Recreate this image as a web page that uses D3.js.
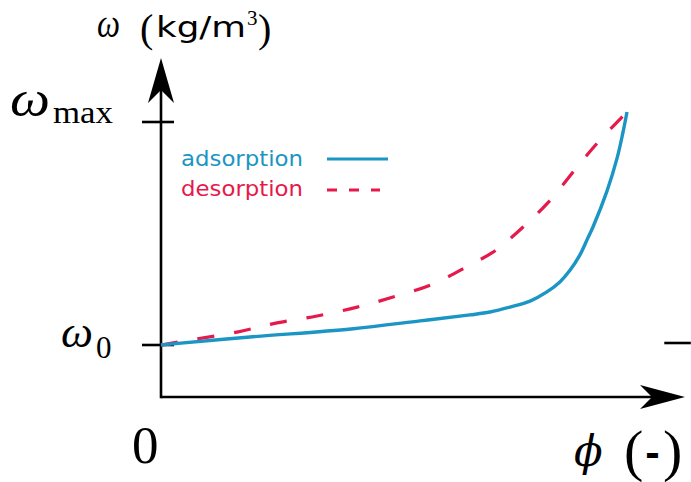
<!DOCTYPE html>
<html>
<head>
<meta charset="utf-8">
<script src="https://cdn.jsdelivr.net/npm/d3@7"></script>
<style>
  body { margin: 0; background: #fff; }
  .sans { font-family: "DejaVu Sans", sans-serif; }
  .serif { font-family: "Liberation Serif", "DejaVu Serif", serif; }
  .dserif { font-family: "DejaVu Serif", serif; }
</style>
</head>
<body>
<div id="chart"></div>
<script>
// sorption isotherm (normalised: phi 0..1, omega 0 = w0, 1 = wmax)
let adsPhi   = [0, 0.019, 0.191, 0.408, 0.556, 0.663, 0.706, 0.749, 0.792, 0.828, 0.856, 0.878, 0.899, 0.916, 0.927, 0.957, 0.979, 0.991, 1.0];
let adsOmega = [0, 0.004, 0.036, 0.072, 0.108, 0.135, 0.148, 0.170, 0.197, 0.238, 0.283, 0.336, 0.404, 0.480, 0.529, 0.690, 0.840, 0.950, 1.045];

let desPhi   = [0, 0.062, 0.163, 0.249, 0.335, 0.421, 0.498, 0.584, 0.663, 0.710, 0.738, 0.777, 0.830, 0.893, 0.942, 1.0];
let desOmega = [0, 0.022, 0.058, 0.099, 0.130, 0.170, 0.215, 0.274, 0.359, 0.413, 0.457, 0.529, 0.637, 0.798, 0.919, 1.045];

let seriesNames = ['adsorption', 'desorption'];
let yTickValues = [0, 1];

let width = 691, height = 482;
let blue = '#1b95c3', red = '#e6194b';

let svg = d3.select('#chart').append('svg')
    .attr('width', width)
    .attr('height', height);

let x = d3.scaleLinear().domain([0, 1]).range([161, 627]);
let y = d3.scaleLinear().domain([0, 1]).range([345, 122]);

// axis extents
let xMax = x.invert(685);
let yMin = y.invert(397);
let yMax = y.invert(58);

let ax = svg.append('g').attr('stroke', '#000').attr('stroke-width', 2.6).attr('fill', 'none');

ax.append('line')
    .attr('x1', x(0)).attr('x2', x(0))
    .attr('y1', y(yMin) + 1.3).attr('y2', y(yMax) + 30);
ax.append('line')
    .attr('x1', x(0)).attr('x2', x(xMax) - 30)
    .attr('y1', y(yMin)).attr('y2', y(yMin));

// arrow heads
let tx = x(0), ty = y(yMax);
svg.append('path')
    .attr('d', `M${tx},${ty} L${tx + 13},${ty + 45} L${tx},${ty + 32} L${tx - 13},${ty + 45} Z`)
    .attr('fill', '#000');
let rx = x(xMax), ry = y(yMin);
svg.append('path')
    .attr('d', `M${rx},${ry} L${rx - 45},${ry - 12} L${rx - 33},${ry} L${rx - 45},${ry + 12} Z`)
    .attr('fill', '#000');

// y ticks
ax.selectAll('.tick')
    .data(yTickValues)
    .enter().append('line')
    .attr('x1', x(0) - 19).attr('x2', x(0) + 13)
    .attr('y1', d => y(d)).attr('y2', d => y(d));

// stray marker at right
ax.append('line')
    .attr('x1', x(1.08)).attr('x2', x(1.137))
    .attr('y1', y(0) - 2).attr('y2', y(0) - 2);

// curves
let line = d3.line()
    .x(d => x(d[0]))
    .y(d => y(d[1]))
    .curve(d3.curveCatmullRom.alpha(0.5));

svg.append('path')
    .datum(desPhi.map((p, i) => [p, desOmega[i]]))
    .attr('d', line)
    .attr('fill', 'none')
    .attr('stroke', red)
    .attr('stroke-width', 3.2)
    .attr('stroke-dasharray', '17,20');

svg.append('path')
    .datum(adsPhi.map((p, i) => [p, adsOmega[i]]))
    .attr('d', line)
    .attr('fill', 'none')
    .attr('stroke', blue)
    .attr('stroke-width', 3.4);

// legend
let legend = svg.append('g');
seriesNames.forEach((name, i) => {
    let col = i == 0 ? blue : red;
    legend.append('text')
        .attr('class', 'sans')
        .attr('x', 181)
        .attr('y', 166 + i * 30)
        .attr('font-size', 21)
        .attr('textLength', 122)
        .attr('lengthAdjust', 'spacingAndGlyphs')
        .attr('fill', col)
        .text(name);
    legend.append('line')
        .attr('x1', 327).attr('x2', i == 0 ? 388 : 380)
        .attr('y1', 159 + i * 31).attr('y2', 159 + i * 31)
        .attr('stroke', col)
        .attr('stroke-width', 2.8)
        .attr('stroke-dasharray', i == 0 ? null : '10,12');
});

// labels
let yl = svg.append('text').attr('y', 37);
yl.append('tspan').attr('class', 'serif').attr('font-style', 'italic').attr('font-size', 40)
    .attr('x', 97).attr('textLength', 23).attr('lengthAdjust', 'spacingAndGlyphs').text('ω');
yl.append('tspan').attr('class', 'serif').attr('font-size', 40).attr('x', 140).attr('y', 42).text('(');
yl.append('tspan').attr('class', 'sans').attr('font-size', 29).attr('x', 156).attr('y', 37)
    .attr('textLength', 90).attr('lengthAdjust', 'spacingAndGlyphs').text('kg/m');
yl.append('tspan').attr('class', 'serif').attr('font-size', 21).attr('x', 247).attr('y', 25).text('3');
yl.append('tspan').attr('class', 'serif').attr('font-size', 40).attr('x', 258).attr('y', 42).text(')');

let wmax = svg.append('text').attr('y', 116);
wmax.append('tspan').attr('class', 'serif').attr('font-style', 'italic').attr('font-size', 50)
    .attr('x', 10).attr('textLength', 40).attr('lengthAdjust', 'spacingAndGlyphs').text('ω');
wmax.append('tspan').attr('class', 'serif').attr('font-size', 32).attr('x', 53).attr('y', 123)
    .attr('textLength', 60).attr('lengthAdjust', 'spacingAndGlyphs').text('max');

let w0 = svg.append('text').attr('y', 347);
w0.append('tspan').attr('class', 'serif').attr('font-style', 'italic').attr('font-size', 44)
    .attr('x', 61).attr('textLength', 32).attr('lengthAdjust', 'spacingAndGlyphs').text('ω');
w0.append('tspan').attr('class', 'serif').attr('font-size', 31).attr('x', 96).attr('y', 358).text('0');

svg.append('text').attr('class', 'serif')
    .attr('x', 132).attr('y', 463)
    .attr('font-size', 53)
    .text('0');

let xl = svg.append('text').attr('y', 466);
xl.append('tspan').attr('class', 'dserif').attr('font-style', 'italic').attr('font-size', 42)
    .attr('x', 574).text('ϕ');
xl.append('tspan').attr('class', 'serif').attr('font-size', 58).attr('x', 624).attr('y', 470).text('(');
xl.append('tspan').attr('class', 'sans').attr('font-weight', 'bold').attr('font-size', 36).attr('x', 645).attr('y', 466).text('-');
xl.append('tspan').attr('class', 'serif').attr('font-size', 58).attr('x', 663).attr('y', 470).text(')');
</script>
</body>
</html>
